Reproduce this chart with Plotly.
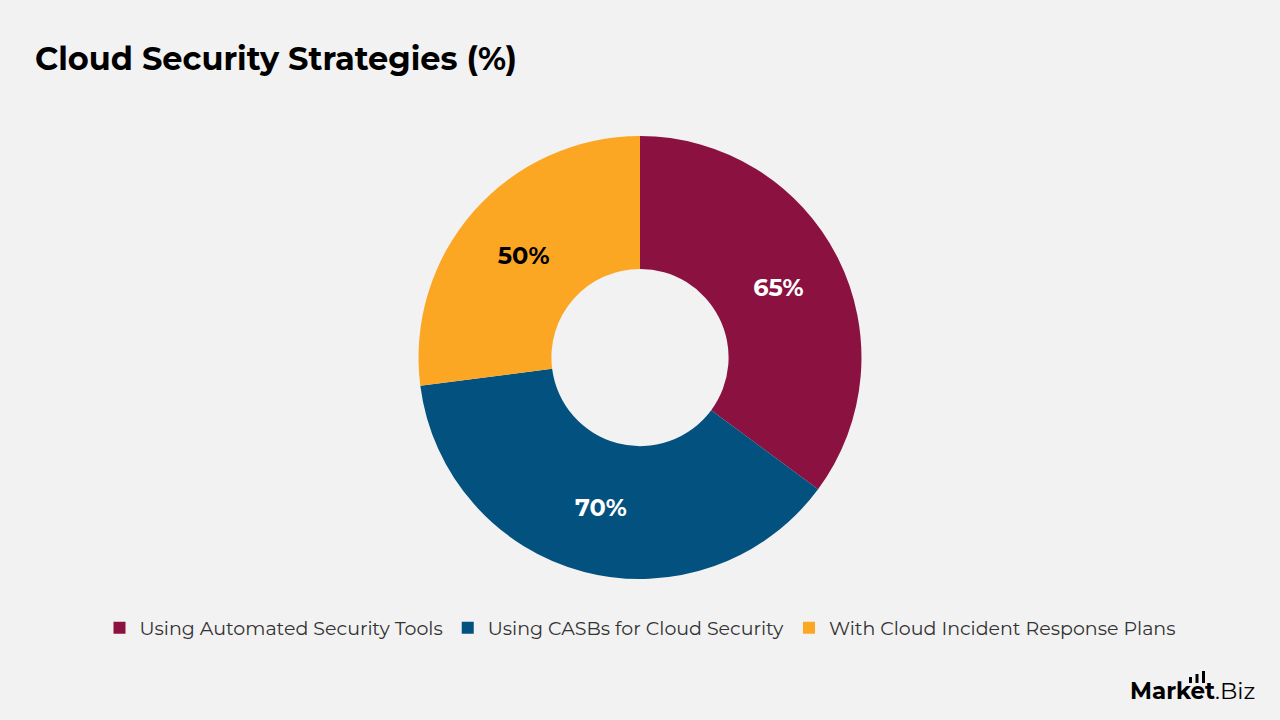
import plotly.graph_objects as go

categories = ["Using Automated Security Tools", "Using CASBs for Cloud Security", "With Cloud Incident Response Plans"]
values = [65, 70, 50]
colors = ["#8B1240", "#03517F", "#FBA724"]
label_colors = ["white", "white", "black"]

FONT = "Montserrat, 'Open Sans', Lato, sans-serif"

fig = go.Figure(go.Pie(
    labels=categories,
    values=values,
    hole=0.4,
    sort=False,
    direction="clockwise",
    rotation=0,
    marker=dict(colors=colors, line=dict(width=0)),
    texttemplate="%{value}%",
    textposition="inside",
    insidetextorientation="horizontal",
    textfont=dict(family=FONT, size=24, color=label_colors, weight="bold"),
    domain=dict(x=[0.3266, 0.6734], y=[0.1958, 0.811]),
    showlegend=True,
))

# decorative logo bars (pixel coordinates converted to paper)
logo_shapes = []
for x0, top in [(1189, 677), (1195.5, 674), (1202, 671)]:
    logo_shapes.append(dict(
        type="rect", xref="paper", yref="paper",
        x0=x0 / 1280, x1=(x0 + 3) / 1280,
        y0=1 - 683 / 720, y1=1 - top / 720,
        fillcolor="black", line=dict(width=0),
    ))

fig.update_layout(
    width=1280, height=720,
    paper_bgcolor="#F2F2F2", plot_bgcolor="#F2F2F2",
    margin=dict(l=0, r=0, t=0, b=0),
    font=dict(family=FONT, color="#222222"),
    legend=dict(
        orientation="h", x=0.5, xanchor="center", y=0.128, yanchor="middle",
        font=dict(size=19, color="#333333"), itemwidth=30, traceorder="normal",
        bgcolor="rgba(0,0,0,0)",
    ),
    shapes=logo_shapes,
    annotations=[
        dict(text="<b>Cloud Security Strategies (%)</b>", x=33/1280, y=1-58/720,
             xref="paper", yref="paper", xanchor="left", yanchor="middle",
             showarrow=False, font=dict(size=32, color="black", family=FONT)),
        dict(text="<b>Market</b>.Biz", x=1257/1280, y=1-691/720,
             xref="paper", yref="paper", xanchor="right", yanchor="middle",
             showarrow=False, font=dict(size=23, color="black", family=FONT)),
    ],
)

fig.write_html("out.html")
